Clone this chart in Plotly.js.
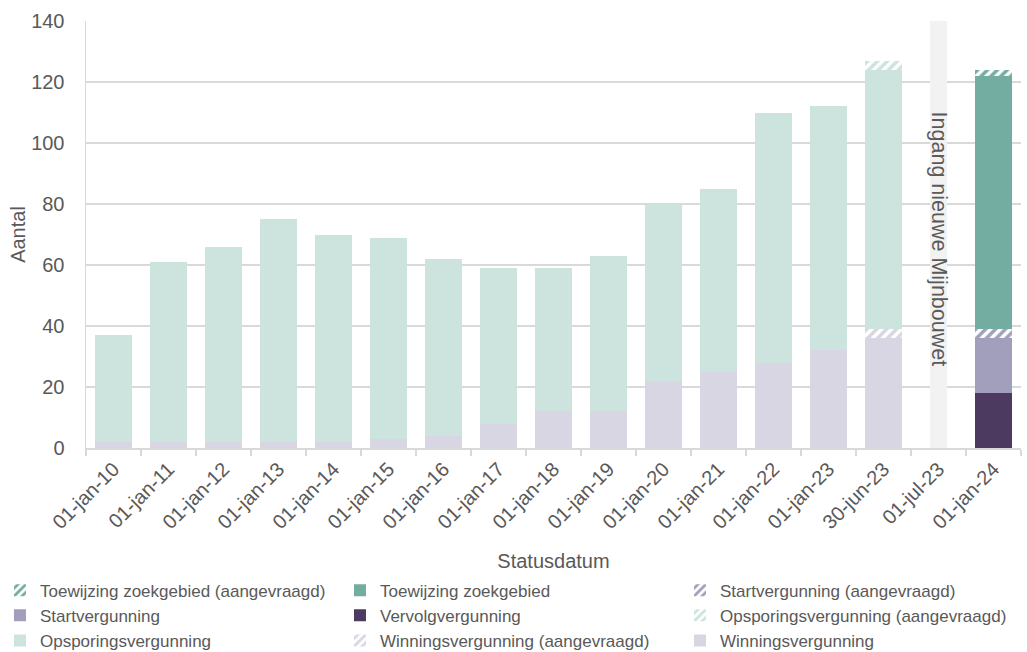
<!DOCTYPE html>
<html>
<head>
<meta charset="utf-8">
<script src="https://cdn.plot.ly/plotly-3.0.1.min.js"></script>
<style>
  html, body { margin: 0; padding: 0; background: #ffffff; }
  #chart { width: 1027px; height: 652px; }
</style>
</head>
<body>
<div id="chart"></div>
<script>
// ---- data ----
const categories = ['01-jan-10','01-jan-11','01-jan-12','01-jan-13','01-jan-14','01-jan-15','01-jan-16',
  '01-jan-17','01-jan-18','01-jan-19','01-jan-20','01-jan-21','01-jan-22','01-jan-23','30-jun-23','01-jul-23','01-jan-24'];

const winningsvergunning            = [2, 2, 2, 2, 2, 3, 4, 8, 12, 12, 22, 25, 28, 32, 36, null, null];
const winningsvergunningAangevraagd = [null,null,null,null,null,null,null,null,null,null,null,null,null,null, 3, null, null];
const opsporingsvergunning          = [35, 59, 64, 73, 68, 66, 58, 51, 47, 51, 58, 60, 82, 80, 85, null, null];
const opsporingsvergunningAangevraagd = [null,null,null,null,null,null,null,null,null,null,null,null,null,null, 3, null, null];
const vervolgvergunning             = [null,null,null,null,null,null,null,null,null,null,null,null,null,null,null,null, 18];
const startvergunning               = [null,null,null,null,null,null,null,null,null,null,null,null,null,null,null,null, 18];
const startvergunningAangevraagd    = [null,null,null,null,null,null,null,null,null,null,null,null,null,null,null,null, 3];
const toewijzingZoekgebied          = [null,null,null,null,null,null,null,null,null,null,null,null,null,null,null,null, 83];
const toewijzingZoekgebiedAangevraagd = [null,null,null,null,null,null,null,null,null,null,null,null,null,null,null,null, 2];
const nieuweWetMarker               = [null,null,null,null,null,null,null,null,null,null,null,null,null,null,null, 140, null];

const markerLabel = 'Ingang nieuwe Mijnbouwet';
const markerCategory = '01-jul-23';
const markerLabelY = 68.5;

// ---- styling ----
const COL = {
  toewijzing: '#73ada1',
  start: '#a29fbd',
  vervolg: '#4c3a60',
  opsporing: '#cde3dd',
  winning: '#d8d6e3',
  band: '#f2f2f2'
};
const FONT = 'Liberation Sans, Arial, sans-serif';
const TXT = '#595959';

function solid(name, y, color) {
  return { type: 'bar', name: name, x: categories, y: y,
    marker: { color: color, line: { width: 0 } }, hoverinfo: 'x+y+name' };
}
function hatched(name, y, color) {
  return { type: 'bar', name: name, x: categories, y: y,
    marker: { color: '#ffffff', line: { width: 0 },
      pattern: { shape: '/', fgcolor: color, bgcolor: '#ffffff', size: 7, solidity: 0.5, fillmode: 'replace' } },
    hoverinfo: 'x+y+name' };
}

const traces = [
  { type: 'bar', name: markerLabel, x: categories, y: nieuweWetMarker, width: 0.31,
    marker: { color: COL.band, line: { width: 0 } }, showlegend: false, hoverinfo: 'skip' },
  solid('Winningsvergunning', winningsvergunning, COL.winning),
  hatched('Winningsvergunning (aangevraagd)', winningsvergunningAangevraagd, COL.winning),
  solid('Opsporingsvergunning', opsporingsvergunning, COL.opsporing),
  hatched('Opsporingsvergunning (aangevraagd)', opsporingsvergunningAangevraagd, COL.opsporing),
  solid('Vervolgvergunning', vervolgvergunning, COL.vervolg),
  solid('Startvergunning', startvergunning, COL.start),
  hatched('Startvergunning (aangevraagd)', startvergunningAangevraagd, COL.start),
  solid('Toewijzing zoekgebied', toewijzingZoekgebied, COL.toewijzing),
  hatched('Toewijzing zoekgebied (aangevraagd)', toewijzingZoekgebiedAangevraagd, COL.toewijzing)
];

const layout = {
  width: 1027, height: 652,
  margin: { l: 86, r: 6, t: 21, b: 204, autoexpand: false },
  paper_bgcolor: '#ffffff', plot_bgcolor: '#ffffff',
  barmode: 'stack', bargap: 0.345,
  font: { family: FONT, color: TXT, size: 19 },
  xaxis: {
    type: 'category', tickangle: -45, automargin: false,
    tickfont: { size: 20, color: TXT },
    ticks: 'outside', tickson: 'boundaries', ticklen: 6, tickcolor: '#d9d9d9', tickwidth: 1.5,
    showline: true, linecolor: '#d9d9d9', linewidth: 1.5, showgrid: false,
    title: { text: 'Statusdatum', font: { size: 20, color: TXT }, standoff: 22 }
  },
  yaxis: {
    range: [0, 140], dtick: 20, tick0: 0, automargin: false,
    tickfont: { size: 20, color: TXT },
    showgrid: true, gridcolor: '#d9d9d9', gridwidth: 1.5,
    showline: true, linecolor: '#d9d9d9', linewidth: 1.5,
    ticks: '', ticklabelstandoff: 16, zeroline: false,
    title: { text: 'Aantal', font: { size: 20, color: TXT }, standoff: 0 }
  },
  legend: {
    orientation: 'h', traceorder: 'reversed',
    xref: 'paper', yref: 'paper', x: -0.092, y: -0.292, xanchor: 'left', yanchor: 'top',
    entrywidth: 295, itemwidth: 30,
    font: { size: 17, color: TXT, family: FONT },
    bgcolor: 'rgba(0,0,0,0)'
  },
  annotations: [{
    x: markerCategory, y: markerLabelY, xref: 'x', yref: 'y',
    text: markerLabel, textangle: 90, showarrow: false,
    font: { size: 21.5, color: TXT, family: FONT }
  }]
};

Plotly.newPlot('chart', traces, layout, { displayModeBar: false, staticPlot: true });
</script>
</body>
</html>
